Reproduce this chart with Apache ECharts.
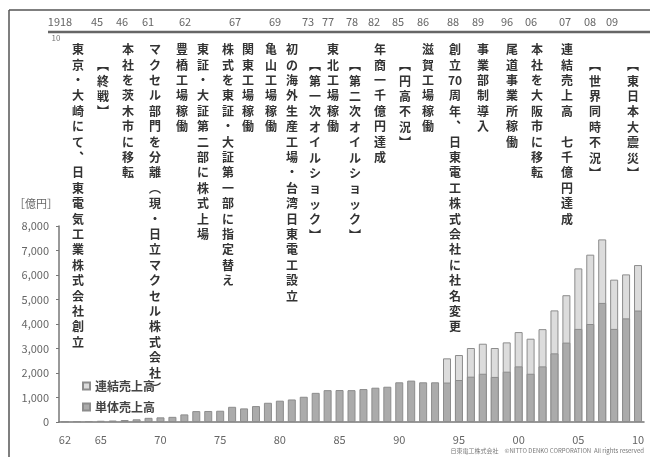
<!DOCTYPE html>
<html><head><meta charset="utf-8">
<script src="https://cdn.jsdelivr.net/npm/echarts@6/dist/echarts.min.js"></script>
<style>html,body{margin:0;padding:0;background:#fff}#c{width:650px;height:457px}</style>
</head><body><div id="c"></div>
<script>
// ---- data ----
const years = [];
for (let y = 1962; y <= 2010; y++) years.push(String(y));
const singleSales = [25,30,40,50,60,80,110,170,190,210,310,445,450,460,620,555,650,785,870,920,1030,1190,1300,1305,1300,1345,1400,1440,1620,1690,1620,1620,1610,1714,1850,1970,1840,2054,2270,1970,2270,2802,3240,3800,4000,4860,3800,4230,4550];
const consolidatedSales = [null,null,null,null,null,null,null,null,null,null,null,null,null,null,null,null,null,null,null,null,null,null,null,null,null,null,null,null,null,null,null,null,2598,2734,3020,3195,3020,3250,3670,3400,3790,4555,5175,6270,6830,7453,5810,6025,6406];
const seriesNames = ['連結売上高','単体売上高'];
const xTickYears = ['1962','1965','1970','1975','1980','1985','1990','1995','2000','2005','2010'];
const timelineYears = ['1918','45','46','61','62','67','69','73','77','78','82','85','86','88','89','96','06','07','08','09'];
const timelineYearX = [60,97,122,148,185,235,275,308,328,352,374,398,423,453,478,507,531,565,590,612];
const events = ['東京・大崎にて、日東電気工業株式会社創立','【終戦】','本社を茨木市に移転','マクセル部門を分離（現・日立マクセル株式会社）','豊橋工場稼働','東証・大証第二部に株式上場','株式を東証・大証第一部に指定替え','関東工場稼働','亀山工場稼働','初の海外生産工場・台湾日東電工設立','【第一次オイルショック】','東北工場稼働','【第二次オイルショック】','年商一千億円達成','【円高不況】','滋賀工場稼働','創立70周年、日東電工株式会社に社名変更','事業部制導入','尾道事業所稼働','本社を大阪市に移転','連結売上高 七千億円達成','【世界同時不況】','【東日本大震災】'];
const eventX = [78,103,128,155,182,203,228,248,271,292,315,333,355,380,405,428,455,483,512,537,567,595,633];

// ---- helpers ----
const FONT = '"Noto Sans CJK JP", "Noto Sans", sans-serif';
const vmap = {'【':'︻','】':'︼','（':'︵','）':'︶','、':'︑'};
function toVertical(s){
  const out = [];
  const toks = s.match(/\d+|./gu);
  toks.forEach(t => out.push(vmap[t] || t));
  return out.join('\n');
}

const chart = echarts.init(document.getElementById('c'), null, {renderer:'canvas'});

const graphics = [];
// outer frame
graphics.push({type:'line', shape:{x1:9,y1:10,x2:650,y2:10}, style:{stroke:'#555',lineWidth:1.5}, silent:true});
graphics.push({type:'line', shape:{x1:9,y1:10,x2:9,y2:457}, style:{stroke:'#555',lineWidth:1.5}, silent:true});
// timeline bar
graphics.push({type:'line', shape:{x1:48,y1:32,x2:650,y2:32}, style:{stroke:'#666',lineWidth:2.5}, silent:true});
timelineYears.forEach((t,i)=>{
  graphics.push({type:'text', x:timelineYearX[i], y:22, style:{text:t, fill:'#666', fontSize:11, fontFamily:FONT, align:'center', verticalAlign:'middle'}, silent:true});
});
graphics.push({type:'text', x:56, y:38, style:{text:'10', fill:'#777', fontSize:8, fontFamily:FONT, align:'center', verticalAlign:'middle'}, silent:true});
events.forEach((e,i)=>{
  const top = e.startsWith('【') ? 58 : 42;
  graphics.push({type:'text', x:eventX[i], y:top, style:{text:toVertical(e), fill:'#333', fontSize:12, fontWeight:'bold', lineHeight:15.4, fontFamily:FONT, align:'center', verticalAlign:'top'}, silent:true});
});
// unit
graphics.push({type:'text', x:14, y:204, style:{text:'［億円］', fill:'#666', fontSize:11, fontFamily:FONT, align:'left', verticalAlign:'middle'}, silent:true});
// copyright
graphics.push({type:'text', x:644, y:451, style:{text:'日東電工株式会社　©NITTO DENKO CORPORATION  All rights reserved', fill:'#777', fontSize:6, fontFamily:FONT, align:'right', verticalAlign:'middle'}, silent:true});

chart.setOption({
  animation:false,
  backgroundColor:'#fff',
  textStyle:{fontFamily:FONT},
  grid:{left:59, right:6, top:226, bottom:35, containLabel:false},
  legend:{
    data:seriesNames, orient:'vertical', left:77, top:375, itemWidth:7, itemHeight:7, itemGap:9, icon:'rect',
    textStyle:{fontSize:12, color:'#444', fontWeight:'bold', fontFamily:FONT}
  },
  xAxis:{
    type:'category', data:years,
    axisLine:{lineStyle:{color:'#777', width:1.5}},
    axisTick:{show:false},
    axisLabel:{
      interval:(idx,val)=>xTickYears.indexOf(val)>=0,
      formatter:v=>v.slice(2), color:'#666', fontSize:11, margin:12
    }
  },
  yAxis:{
    type:'value', min:0, max:8000, interval:1000,
    axisLine:{show:true, lineStyle:{color:'#777', width:1.5}},
    axisTick:{show:true, length:3, lineStyle:{color:'#777'}},
    splitLine:{show:false},
    axisLabel:{formatter:v=>v.toLocaleString('en-US'), color:'#666', fontSize:11, margin:10}
  },
  series:[
    {name:seriesNames[0], type:'bar', data:consolidatedSales, barWidth:8,
     itemStyle:{color:'#dcdcdc', borderColor:'#8c8c8c', borderWidth:1}},
    {name:seriesNames[1], type:'bar', data:singleSales, barWidth:8, barGap:'-100%',
     itemStyle:{color:'#ababab', borderColor:'#8c8c8c', borderWidth:1}}
  ],
  graphic:graphics
});
</script></body></html>
